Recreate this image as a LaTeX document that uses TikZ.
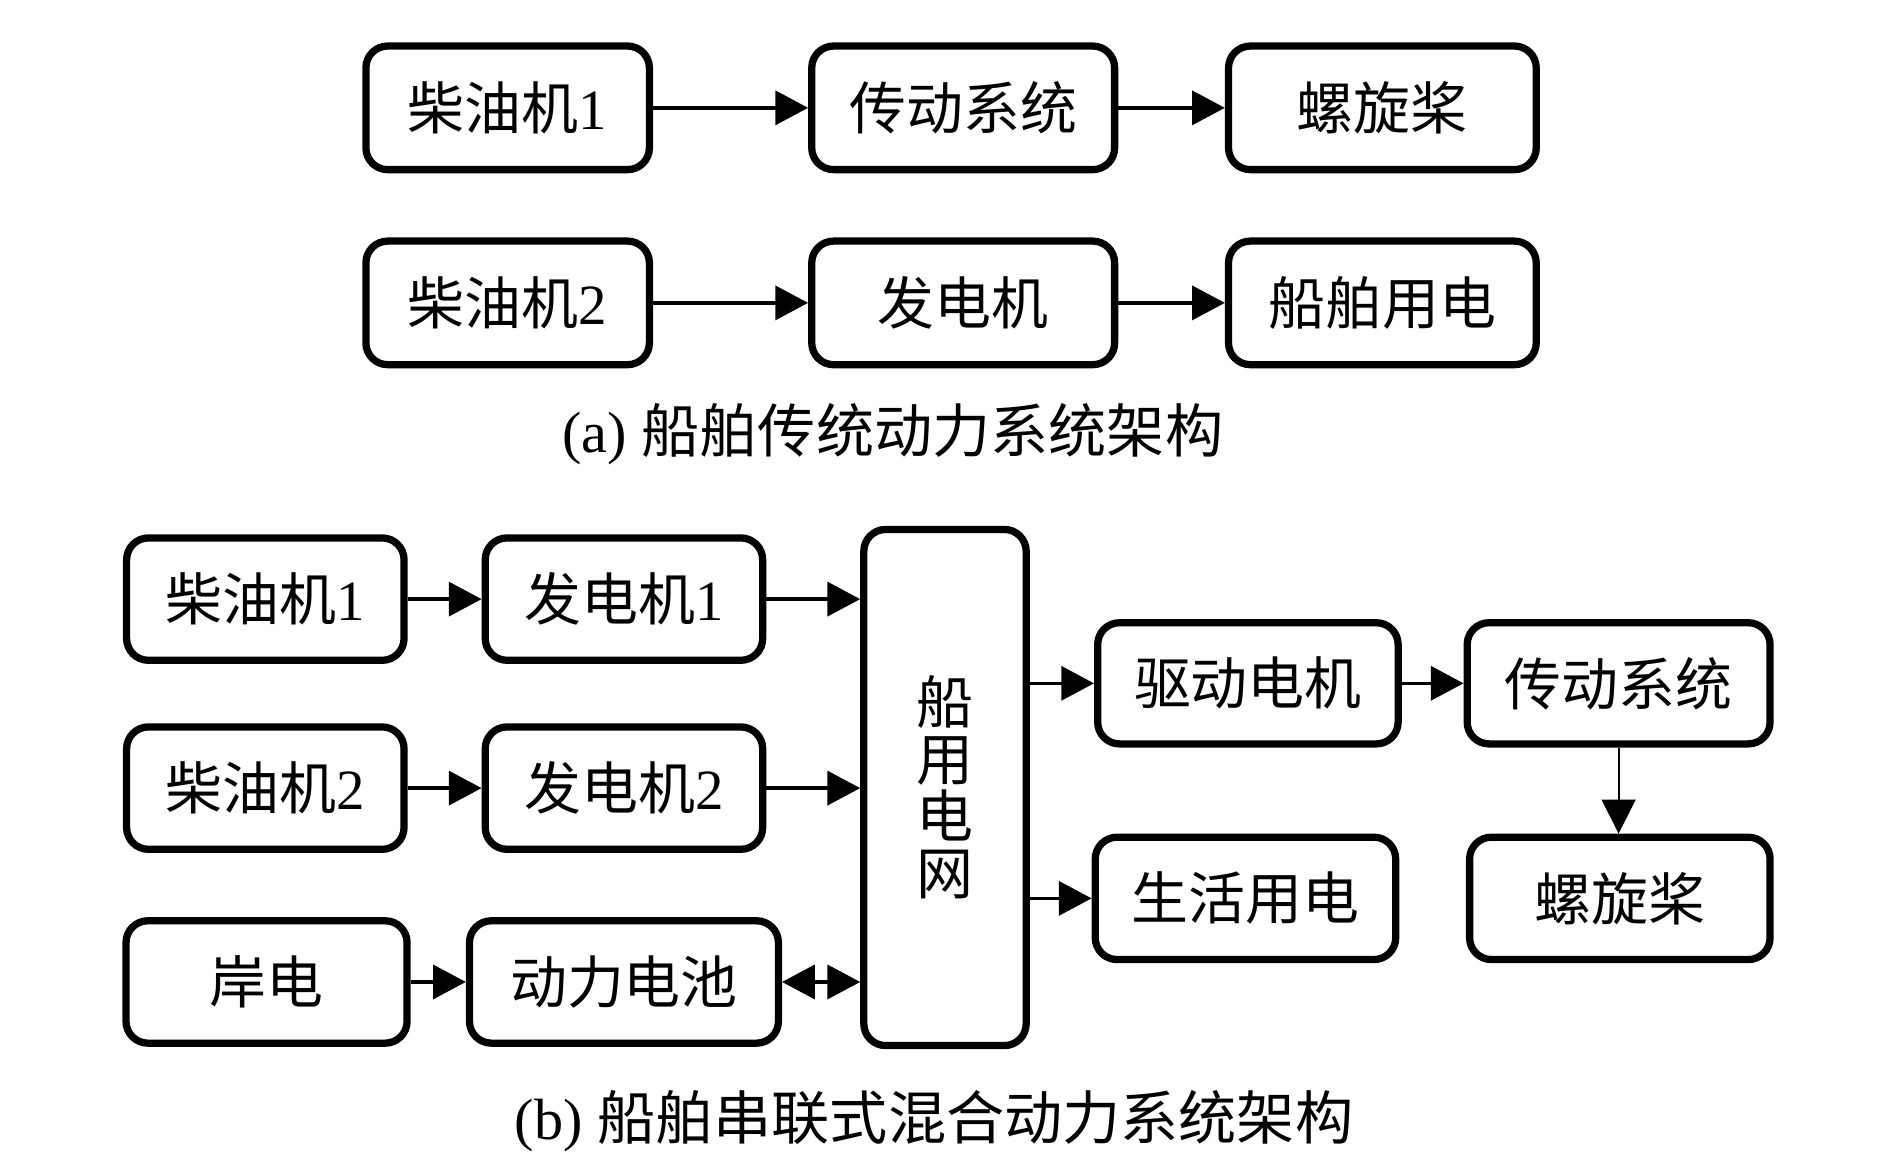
\documentclass[tikz,border=0pt]{standalone}
\usepackage{fontspec}
\setmainfont{Liberation Serif}
\newfontfamily\cjk{Noto Sans CJK SC}
\usetikzlibrary{arrows.meta}
\begin{document}
\begin{tikzpicture}[x=1pt,y=-1pt,
  box/.style={draw, line width=6pt, rounded corners=18pt, inner sep=0pt, align=center,
    font=\fontsize{47}{50}\selectfont},
  arr/.style={line width=3pt, -{Triangle[length=27pt,width=28pt]}},
  darr/.style={line width=3pt, {Triangle[length=27pt,width=28pt]}-{Triangle[length=27pt,width=28pt]}},
  thinarr/.style={line width=1.5pt, -{Triangle[length=28pt,width=28pt]}},
  captxt/.style={font=\fontsize{48}{52}\selectfont, inner sep=0pt}]
\useasboundingbox (0,0) rectangle (1560,956);
% (a)
\node[box, minimum width=234pt, minimum height=102pt] (a1) at (419,89) {{\cjk 柴油机}1};
\node[box, minimum width=250pt, minimum height=102pt] (a2) at (795,89) {\cjk 传动系统};
\node[box, minimum width=254pt, minimum height=102pt] (a3) at (1141,89) {\cjk 螺旋桨};
\node[box, minimum width=234pt, minimum height=102pt] (a4) at (419,250) {{\cjk 柴油机}2};
\node[box, minimum width=250pt, minimum height=102pt] (a5) at (795,250) {\cjk 发电机};
\node[box, minimum width=254pt, minimum height=102pt] (a6) at (1141,250) {\cjk 船舶用电};
\draw[arr] (a1.east) -- (a2.west);
\draw[arr] (a2.east) -- (a3.west);
\draw[arr] (a4.east) -- (a5.west);
\draw[arr] (a5.east) -- (a6.west);
\node[captxt] (capa) at (737,358) {(a) {\cjk 船舶传统动力系统架构}};
% (b)
\node[box, minimum width=229pt, minimum height=101pt] (b1) at (219,494.5) {{\cjk 柴油机}1};
\node[box, minimum width=229pt, minimum height=101pt] (b2) at (515,494.5) {{\cjk 发电机}1};
\node[box, minimum width=229pt, minimum height=101pt] (b3) at (219,650.5) {{\cjk 柴油机}2};
\node[box, minimum width=229pt, minimum height=101pt] (b4) at (515,650.5) {{\cjk 发电机}2};
\node[box, minimum width=232pt, minimum height=101pt] (b5) at (220,810.5) {\cjk 岸电};
\node[box, minimum width=255pt, minimum height=101pt] (b6) at (515,810.5) {\cjk 动力电池};
\node[box, minimum width=134pt, minimum height=426pt, font=\fontsize{47}{47}\selectfont] (g) at (780,650) {\cjk 船\\\cjk 用\\\cjk 电\\\cjk 网};
\node[box, minimum width=248pt, minimum height=100pt] (b7) at (1030,564) {\cjk 驱动电机};
\node[box, minimum width=250pt, minimum height=100pt] (b8) at (1336,564) {\cjk 传动系统};
\node[box, minimum width=248pt, minimum height=101pt] (b9) at (1028,741.5) {\cjk 生活用电};
\node[box, minimum width=248pt, minimum height=101pt] (b10) at (1337,741.5) {\cjk 螺旋桨};
\draw[arr] (b1.east) -- (b2.west);
\draw[arr] (b2.east) -- (b2.east -| g.west);
\draw[arr] (b3.east) -- (b4.west);
\draw[arr] (b4.east) -- (b4.east -| g.west);
\draw[arr] (b5.east) -- (b6.west);
\draw[darr] (b6.east) -- (b6.east -| g.west);
\draw[arr] (g.east |- b7.west) -- (b7.west);
\draw[arr] (g.east |- b9.west) -- (b9.west);
\draw[arr] (b7.east) -- (b8.west);
\draw[thinarr] (b8.south) -- (b8.south |- b10.north);
\node[captxt] (capb) at (771,925) {(b) {\cjk 船舶串联式混合动力系统架构}};
\end{tikzpicture}
\end{document}
